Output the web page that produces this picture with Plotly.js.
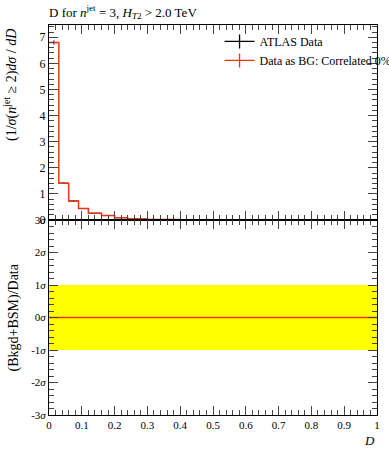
<!DOCTYPE html>
<html>
<head>
<meta charset="utf-8">
<script src="https://cdn.plot.ly/plotly-3.0.1.min.js"></script>
<style>html,body{margin:0;padding:0;background:#fff;}#plot{width:389px;height:450px;}</style>
</head>
<body>
<div id="plot"></div>
<script>
// Bin edges in D and measured normalised cross-section values
const binEdges = [0, 0.03, 0.06, 0.09, 0.12, 0.16, 0.20, 0.24, 0.30, 0.40, 0.50, 0.60, 0.80, 1.00];
const atlasValues = [6.80, 1.41, 0.73, 0.44, 0.26, 0.17, 0.09, 0.04, 0.02, 0.01, 0.005, 0.003, 0.001];
const atlasErrors = [0.08, 0.03, 0.02, 0.015, 0.01, 0.008, 0.006, 0.004, 0.003, 0.002, 0.001, 0.001, 0.001];
const bgValues = [6.80, 1.41, 0.73, 0.44, 0.26, 0.17, 0.09, 0.04, 0.02, 0.01, 0.005, 0.003, 0.001];
// Ratio panel: deviation in sigma and the 1-sigma band
const ratioValues = [0, 0, 0, 0, 0, 0, 0, 0, 0, 0, 0, 0, 0];
const bandUp = [1, 1, 1, 1, 1, 1, 1, 1, 1, 1, 1, 1, 1];
const bandDown = [-1, -1, -1, -1, -1, -1, -1, -1, -1, -1, -1, -1, -1];
// Tick labels
const xTickVals = [0, 0.1, 0.2, 0.3, 0.4, 0.5, 0.6, 0.7, 0.8, 0.9, 1];
const xTickText = ['0', '0.1', '0.2', '0.3', '0.4', '0.5', '0.6', '0.7', '0.8', '0.9', '1'];
const yTopVals = [0, 1, 2, 3, 4, 5, 6, 7];
const yTopText = ['0', '1', '2', '3', '4', '5', '6', '7'];
const yBotVals = [-3, -2, -1, 0, 1, 2, 3];
const yBotText = ['-3<i>σ</i>', '-2<i>σ</i>', '-1<i>σ</i>', '0<i>σ</i>', '1<i>σ</i>', '2<i>σ</i>', '3<i>σ</i>'];

function stepX(edges) { return edges.slice(); }
function stepY(vals) { return vals.concat([vals[vals.length - 1]]); }
const centers = binEdges.slice(0, -1).map((e, i) => (e + binEdges[i + 1]) / 2);
const halfW = binEdges.slice(0, -1).map((e, i) => (binEdges[i + 1] - e) / 2);

const FONT = 'Liberation Serif, DejaVu Serif, serif';
const RED = '#ee3311';

const traces = [
  // ratio band
  {x: stepX(binEdges), y: stepY(bandDown), xaxis: 'x2', yaxis: 'y2', mode: 'lines',
   line: {shape: 'hv', width: 0, color: '#ffff00'}, showlegend: false, hoverinfo: 'skip'},
  {x: stepX(binEdges), y: stepY(bandUp), xaxis: 'x2', yaxis: 'y2', mode: 'lines', fill: 'tonexty',
   fillcolor: '#ffff00', line: {shape: 'hv', width: 0, color: '#ffff00'}, showlegend: false, hoverinfo: 'skip'},
  {x: stepX(binEdges), y: stepY(ratioValues), xaxis: 'x2', yaxis: 'y2', mode: 'lines',
   line: {shape: 'hv', width: 1.5, color: RED}, showlegend: false},
  // ATLAS data points
  {x: centers, y: atlasValues, xaxis: 'x', yaxis: 'y', mode: 'markers',
   marker: {size: 1, color: 'black'},
   error_x: {type: 'data', array: halfW, color: 'black', thickness: 1, width: 0},
   error_y: {type: 'data', array: atlasErrors, color: 'black', thickness: 1, width: 0},
   showlegend: false},
  // BG step line
  {x: stepX(binEdges), y: stepY(bgValues), xaxis: 'x', yaxis: 'y', mode: 'lines',
   line: {shape: 'hv', width: 1.5, color: RED}, showlegend: false},
  // legend entries
  {x: [null], y: [null], xaxis: 'x', yaxis: 'y', mode: 'lines+markers', name: 'ATLAS Data',
   line: {color: 'black', width: 1.3}, marker: {symbol: 'line-ns-open', size: 10, color: 'black', line: {width: 1.3, color: 'black'}}},
  {x: [null], y: [null], xaxis: 'x', yaxis: 'y', mode: 'lines+markers', name: 'Data as BG: Correlated 0%',
   line: {color: RED, width: 1.3}, marker: {symbol: 'line-ns-open', size: 10, color: RED, line: {width: 1.3, color: RED}}}
];

const axCommon = {
  showline: true, linecolor: 'black', linewidth: 1, mirror: 'ticks',
  ticks: 'inside', ticklen: 9, tickcolor: '#444', tickwidth: 1,
  showgrid: false, zeroline: false, fixedrange: true,
  tickfont: {family: FONT, size: 11, color: 'black'}
};

const layout = {
  width: 389, height: 450,
  margin: {l: 49, r: 12, t: 25, b: 35, autoexpand: false},
  paper_bgcolor: 'white', plot_bgcolor: 'white',
  font: {family: FONT, color: 'black'},
  title: {text: 'D for <i>n</i><sup>jet</sup> = 3, <i>H</i><sub><i>T</i>2</sub> > 2.0 TeV',
          font: {family: FONT, size: 13, color: 'black'},
          xref: 'paper', x: 0, xanchor: 'left', yref: 'container', y: 1 - 12 / 450, yanchor: 'middle'},
  showlegend: true,
  legend: {x: 0.52, xanchor: 'left', y: 0.995, yanchor: 'top', bgcolor: 'rgba(0,0,0,0)',
           traceorder: 'normal',
           font: {family: FONT, size: 12, color: 'black'}, tracegroupgap: 0, itemwidth: 30},
  xaxis: Object.assign({}, axCommon, {domain: [0, 1], anchor: 'y', range: [0, 1],
    tickmode: 'array', tickvals: xTickVals, showticklabels: false,
    minor: {tick0: 0, dtick: 0.02, ticks: 'inside', ticklen: 5, tickcolor: '#444', showgrid: false}}),
  yaxis: Object.assign({}, axCommon, {domain: [0.5, 1], anchor: 'x', range: [0, 7.47],
    tickmode: 'array', tickvals: yTopVals, ticktext: yTopText,
    tickfont: {family: FONT, size: 12, color: 'black'},
    minor: {tick0: 0, dtick: 0.2, ticks: 'inside', ticklen: 5, tickcolor: '#444', showgrid: false}}),
  xaxis2: Object.assign({}, axCommon, {domain: [0, 1], anchor: 'y2', range: [0, 1],
    tickmode: 'array', tickvals: xTickVals, ticktext: xTickText,
    minor: {tick0: 0, dtick: 0.02, ticks: 'inside', ticklen: 5, tickcolor: '#444', showgrid: false}}),
  yaxis2: Object.assign({}, axCommon, {domain: [0, 0.5], anchor: 'x2', range: [-3, 3],
    tickmode: 'array', tickvals: yBotVals, ticktext: yBotText,
    minor: {tick0: -3, dtick: 0.2, ticks: 'inside', ticklen: 5, tickcolor: '#444', showgrid: false}}),
  annotations: [
    {text: '<i>D</i>', xref: 'paper', yref: 'paper', x: 1, y: -0.065, xanchor: 'right', yanchor: 'middle',
     showarrow: false, font: {family: FONT, size: 13, color: 'black'}},
    {text: '(1/<i>σ</i>(<i>n</i><sup>jet</sup> ≥ 2)<i>dσ</i> / <i>dD</i>', xref: 'paper', yref: 'paper',
     x: -38 / 328, y: 0.995, xanchor: 'center', yanchor: 'top', textangle: -90, showarrow: false,
     font: {family: FONT, size: 14, color: 'black'}},
    {text: '(Bkgd+BSM)/Data', xref: 'paper', yref: 'paper',
     x: -36 / 328, y: 0.25, xanchor: 'center', yanchor: 'middle', textangle: -90, showarrow: false,
     font: {family: FONT, size: 14, color: 'black'}}
  ]
};

Plotly.newPlot('plot', traces, layout, {staticPlot: true, displayModeBar: false});
</script>
</body>
</html>
